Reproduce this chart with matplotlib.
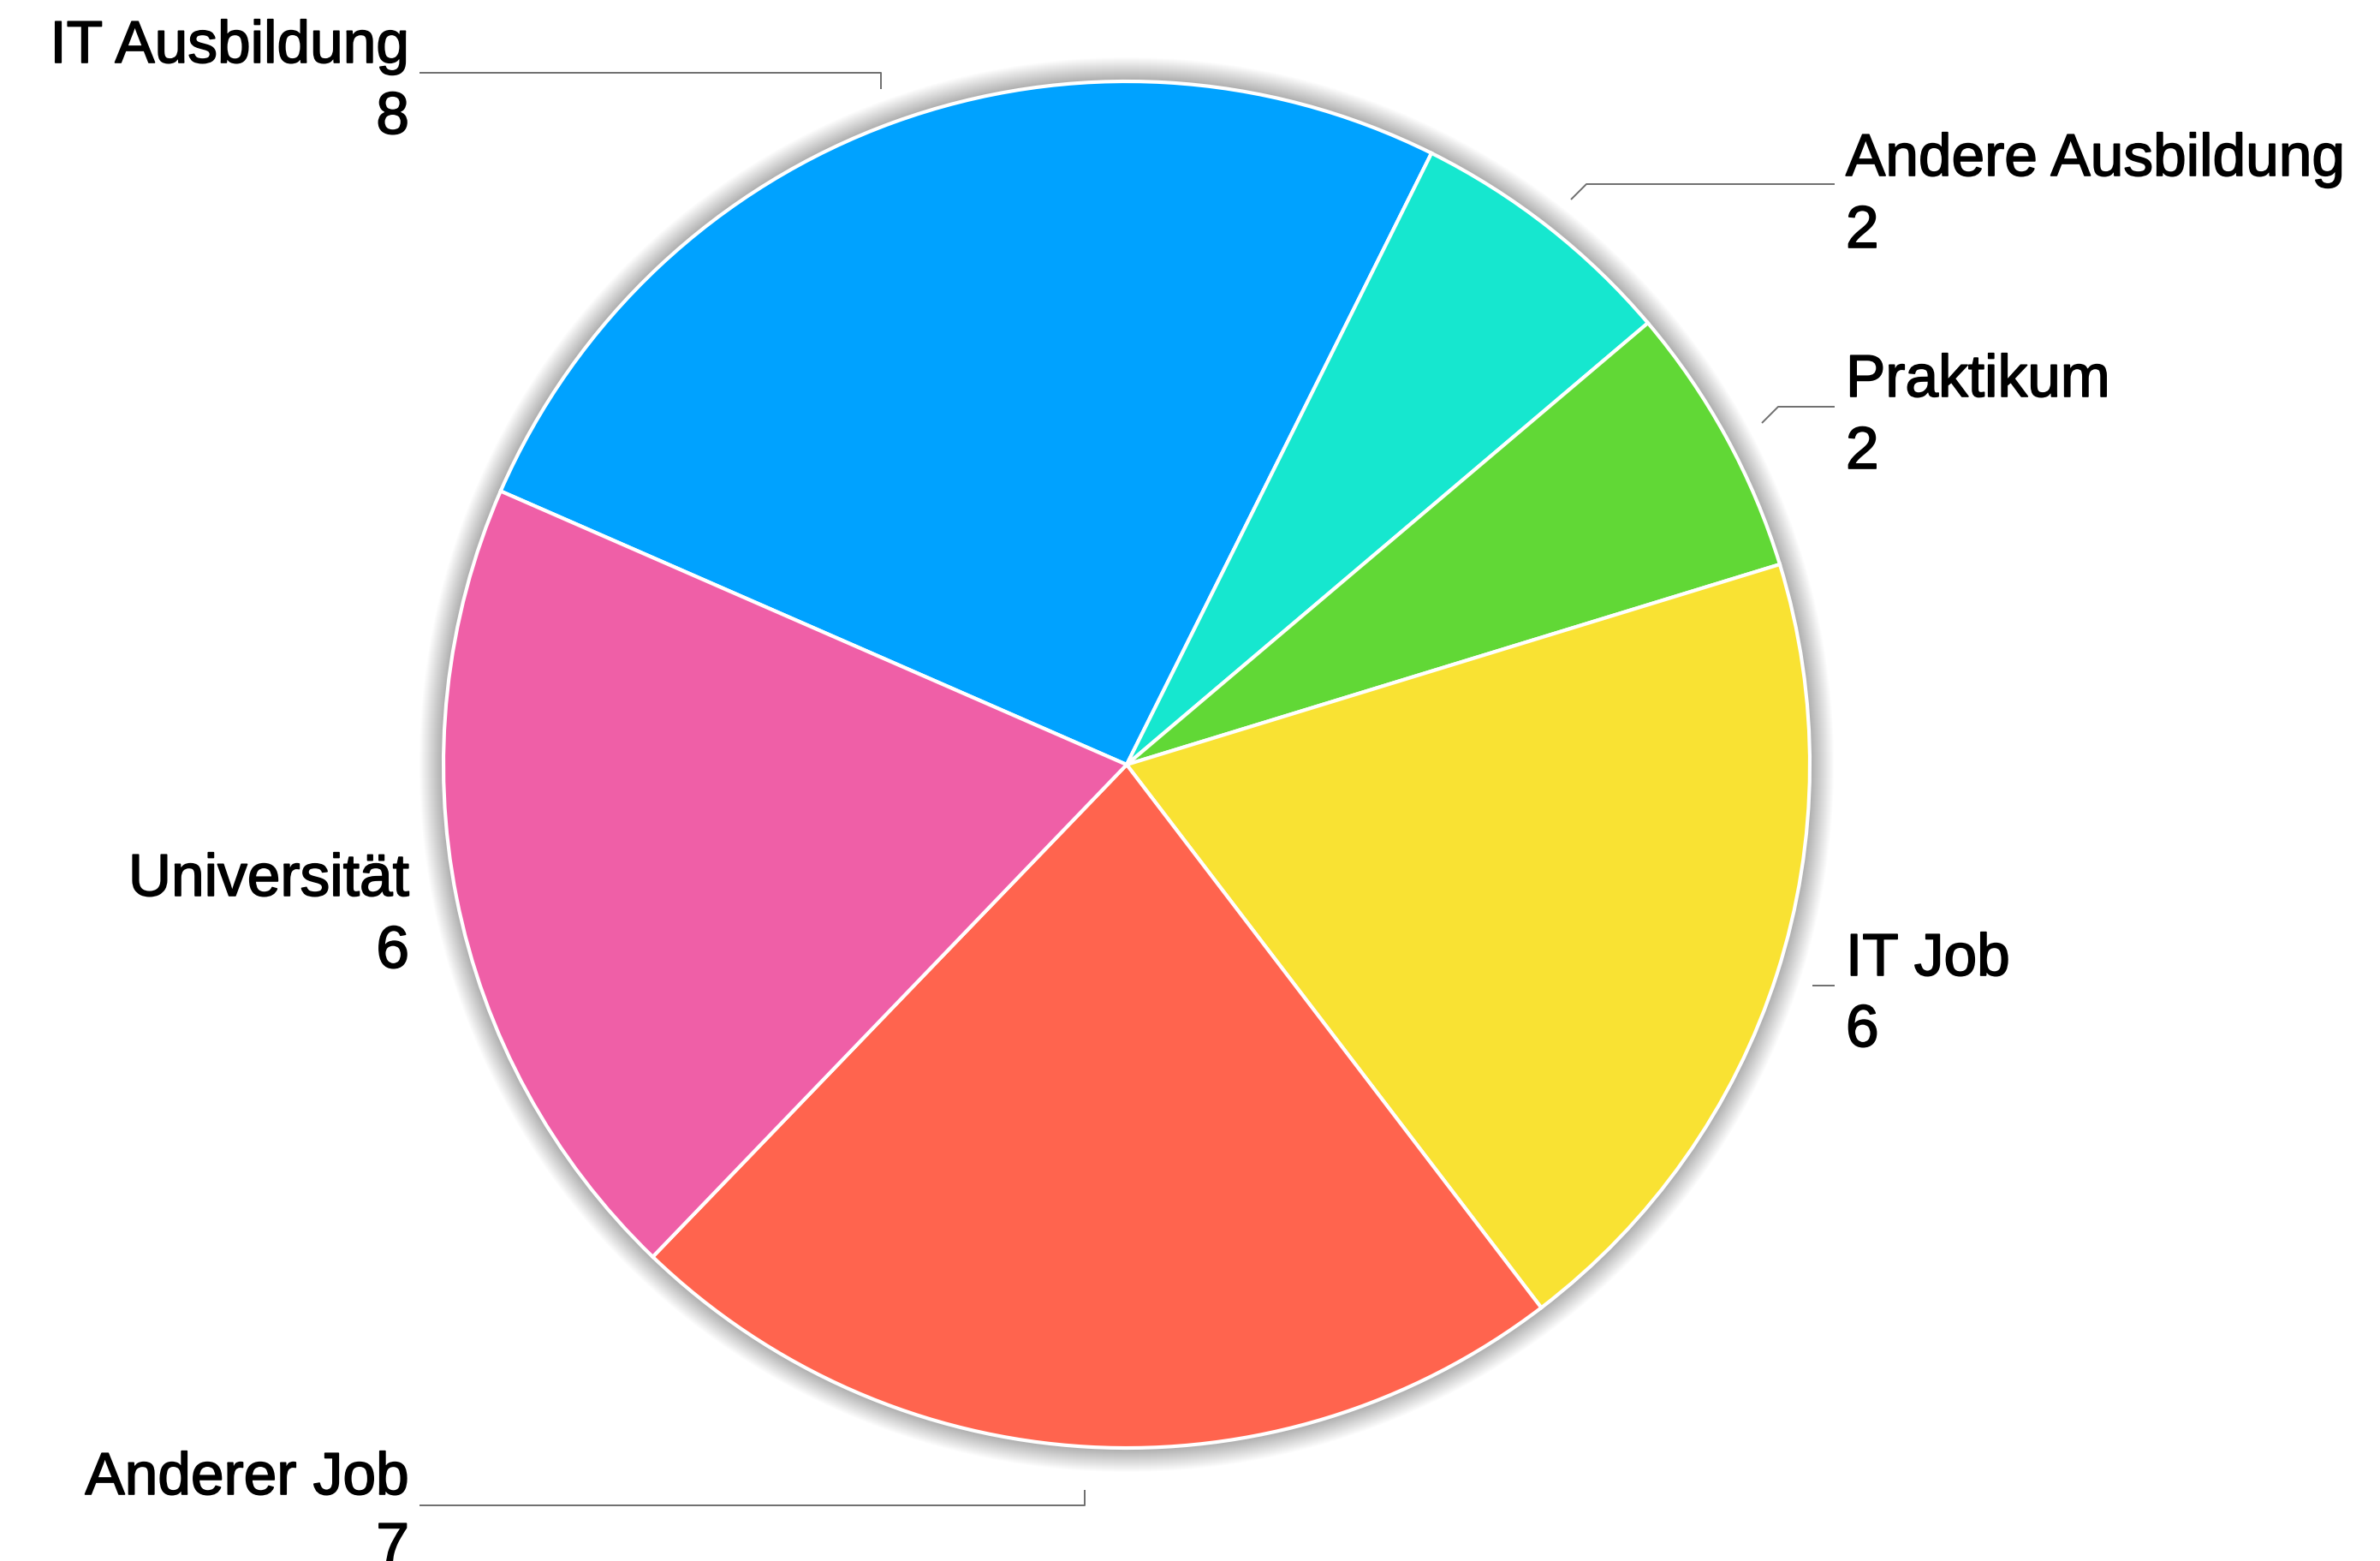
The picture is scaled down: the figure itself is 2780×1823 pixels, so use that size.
#!/usr/bin/env python3
"""
Kreisdiagramm: Werdegang (Ausbildung / Job)
"""
import matplotlib
matplotlib.use("Agg")
import matplotlib.pyplot as plt
import matplotlib.patheffects as pe
from matplotlib.patches import Circle

# Daten
labels = ["IT Ausbildung", "Andere Ausbildung", "Praktikum", "IT Job", "Anderer Job", "Universität"]
values = [8, 2, 2, 6, 7, 6]
colors = ["#00A2FF", "#16E7CF", "#61D836", "#F9E233", "#FF644E", "#EF5FA7"]

W, H = 2780, 1823
CX, CY, R = 1316, 893, 798


def py(y):
    """Pixelzeile (von oben) -> Datenkoordinate (von unten)"""
    return H - y


fig = plt.figure(figsize=(W / 100, H / 100), dpi=100)
ax = fig.add_axes([0, 0, 1, 1])

# weicher Schatten hinter dem Kreis
for i in range(28):
    ax.add_patch(Circle((CX, py(CY)), R + 28 - i, color="black",
                        alpha=0.011, lw=0, zorder=0))

ax.pie(values, colors=colors, startangle=156.4, counterclock=False,
       center=(CX, py(CY)), radius=R, frame=True,
       wedgeprops=dict(edgecolor="white", linewidth=3, zorder=2))
ax.set_xlim(0, W)
ax.set_ylim(0, H)
ax.set_aspect("equal")
ax.axis("off")

# Beschriftungen: (x, Baseline Name, Baseline Wert, Ausrichtung)
label_pos = [
    (478, 73, 156, "right"),
    (2156, 205, 289, "left"),
    (2156, 463, 547, "left"),
    (2156, 1139, 1222, "left"),
    (478, 1745, 1827, "right"),
    (478, 1046, 1130, "right"),
]
font = dict(family=["Liberation Sans", "DejaVu Sans"], fontsize=50, color="black",
            path_effects=[pe.withStroke(linewidth=1.2, foreground="black")])
for name, val, (x, y1, y2, ha) in zip(labels, values, label_pos):
    ax.text(x, py(y1), name, ha=ha, va="baseline", **font)
    ax.text(x, py(y2), str(val), ha=ha, va="baseline", **font)

# Hinweislinien
leaders = [
    [(490, 85), (1029, 85), (1029, 104)],
    [(1835, 233), (1853, 215), (2143, 215)],
    [(2058, 494), (2077, 475), (2143, 475)],
    [(2117, 1151), (2143, 1151)],
    [(490, 1758), (1267, 1758), (1267, 1740)],
]
for pts in leaders:
    xs = [p[0] for p in pts]
    ys = [py(p[1]) for p in pts]
    ax.plot(xs, ys, color="#6e6e6e", lw=1.4, solid_capstyle="butt", zorder=3)

fig.savefig("out.png", dpi=100, facecolor="white")
